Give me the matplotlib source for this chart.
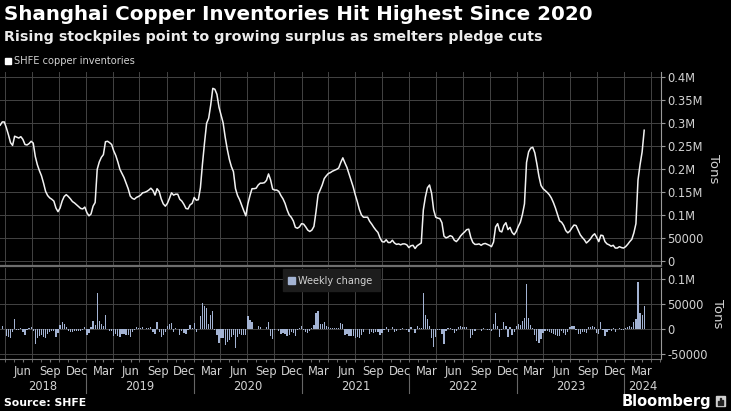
"""
Shanghai copper inventories (SHFE) with weekly change panel, Bloomberg style
"""
import numpy as np
import pandas as pd
import matplotlib
matplotlib.use('Agg')
import matplotlib.pyplot as plt
import matplotlib.dates as mdates
import matplotlib.transforms as mtransforms
from matplotlib.patches import Rectangle

# ---- data (weekly, thousand tons) ----
start_date = '2018-03-16'
inventory_kt = [
    296, 303, 303, 290, 275, 258, 252, 272, 270, 268, 271, 265, 254, 253, 256, 261,
    257, 228, 210, 197, 186, 170, 152, 143, 138, 135, 131, 116, 108, 116, 131, 141,
    145, 141, 136, 130, 127, 123, 119, 115, 114, 118, 106, 99, 103, 120, 128, 200,
    216, 226, 232, 260, 261, 258, 254, 240, 230, 216, 200, 191, 182, 170, 158, 142,
    137, 135, 139, 141, 144, 149, 150, 152, 155, 159, 154, 144, 158, 152, 136, 125,
    120, 126, 137, 149, 144, 146, 146, 135, 131, 124, 115, 114, 123, 126, 139, 133,
    134, 160, 212, 258, 300, 311, 340, 376, 374, 363, 335, 318, 301, 270, 244, 222,
    206, 195, 158, 143, 134, 122, 110, 99, 125, 143, 158, 158, 159, 166, 170, 170,
    171, 176, 190, 177, 157, 155, 155, 152, 143, 136, 126, 112, 101, 96, 88, 74,
    72, 75, 82, 81, 75, 68, 65, 68, 76, 108, 145, 155, 166, 180, 186, 191,
    193, 196, 198, 200, 203, 215, 225, 214, 204, 190, 176, 162, 145, 130, 113, 101,
    96, 96, 96, 87, 81, 74, 68, 63, 51, 43, 42, 47, 41, 41, 46, 40,
    37, 38, 36, 38, 38, 36, 30, 34, 35, 28, 34, 37, 40, 112, 140, 160,
    166, 148, 112, 96, 94, 93, 84, 55, 51, 53, 56, 54, 46, 43, 48, 55,
    60, 64, 69, 70, 52, 41, 37, 37, 38, 35, 38, 39, 37, 35, 32, 42,
    75, 82, 66, 64, 78, 84, 69, 74, 63, 58, 65, 76, 85, 102, 125, 215,
    238, 246, 248, 236, 212, 185, 165, 158, 154, 150, 145, 138, 128, 116, 102, 88,
    85, 78, 67, 62, 66, 73, 79, 78, 68, 58, 52, 47, 40, 44, 49, 56,
    60, 52, 43, 57, 56, 43, 38, 36, 33, 35, 29, 29, 32, 30, 29, 32,
    37, 43, 48, 62, 82, 177, 210, 238, 285,
]
top_ticks = [0, 50000, 100000, 150000, 200000, 250000, 300000, 350000, 400000]
top_labels = ['0', '50000', '0.1M', '0.15M', '0.2M', '0.25M', '0.3M', '0.35M', '0.4M']
bottom_ticks = [-50000, 0, 50000, 100000]
bottom_labels = ['-50000', '0', '50000', '0.1M']
years = [2018, 2019, 2020, 2021, 2022, 2023, 2024]

title = 'Shanghai Copper Inventories Hit Highest Since 2020'
subtitle = 'Rising stockpiles point to growing surplus as smelters pledge cuts'

# ---- derived series ----
dates = pd.date_range(start_date, periods=len(inventory_kt), freq='7D')
inventory = np.array(inventory_kt, dtype=float) * 1000
weekly_change = np.diff(inventory)

W, H = 731, 411
BG = 'black'
GRID = '#444444'
TXT = '#d2d2d2'
BAR = '#a3b3d3'

fig = plt.figure(figsize=(W / 100, H / 100), dpi=100, facecolor=BG)


def px_box(x0, y0, x1, y1):
    """figure-fraction rect from pixel box (y from top)"""
    return [x0 / W, 1 - y1 / H, (x1 - x0) / W, (y1 - y0) / H]


ax1 = fig.add_axes(px_box(0, 72, 661, 266))
ax2 = fig.add_axes(px_box(0, 268, 661, 359))

xmin = pd.Timestamp('2018-03-15 08:00')
xmax = pd.Timestamp('2024-05-04')

grid_dates = pd.date_range('2018-04-01', '2024-04-01', freq='QS')
label_dates = pd.date_range('2018-06-01', '2024-03-01', freq='QS-MAR')

for ax in (ax1, ax2):
    ax.set_facecolor(BG)
    ax.set_xlim(xmin, xmax)
    ax.yaxis.tick_right()
    ax.yaxis.set_label_position('right')
    for s in ('left', 'top'):
        ax.spines[s].set_visible(False)
    ax.spines['right'].set_color('#9a9a9a')
    ax.spines['right'].set_linewidth(0.8)
    ax.grid(axis='y', color=GRID, linewidth=0.7)
    for d in grid_dates:
        ax.axvline(d, color=GRID, linewidth=0.7, zorder=0)
    ax.set_axisbelow(True)
    ax.tick_params(axis='y', colors='#9a9a9a', labelcolor=TXT, labelsize=8.3,
                   length=3, width=0.8, pad=1.5)
    ax.set_ylabel('Tons', rotation=270, color=TXT, fontsize=9.5, labelpad=12)

# top panel: inventories
ax1.plot(dates, inventory, color='#f2f2f2', linewidth=1.1)
ax1.set_ylim(-10000, 411500)
ax1.set_yticks(top_ticks)
ax1.set_yticklabels(top_labels)
ax1.set_xticks([])
ax1.spines['bottom'].set_color('#6e6e6e')
ax1.spines['bottom'].set_linewidth(1.6)

# bottom panel: weekly change
ax2.bar(dates[1:], weekly_change, width=4.2, color=BAR, zorder=2)
ax2.set_ylim(-60000, 122000)
ax2.set_yticks(bottom_ticks)
ax2.set_yticklabels(bottom_labels)
ax2.spines['bottom'].set_color('#777777')
ax2.spines['bottom'].set_linewidth(0.8)
ax2.set_xticks(label_dates)
ax2.set_xticklabels([d.strftime('%b') for d in label_dates])
ax2.xaxis.set_minor_locator(mdates.MonthLocator())
ax2.tick_params(axis='x', which='major', length=2, color='#777777',
                labelcolor=TXT, labelsize=8.3, pad=2.5)
ax2.tick_params(axis='x', which='minor', length=2, color='#777777')

# year labels and separators under the month labels
trans = mtransforms.blended_transform_factory(ax2.transData, ax2.transAxes)
xlo, xhi = mdates.date2num(xmin), mdates.date2num(xmax)
for yr in years:
    a = max(mdates.date2num(pd.Timestamp(f'{yr}-01-01')), xlo)
    b = min(mdates.date2num(pd.Timestamp(f'{yr + 1}-01-01')), xhi)
    ax2.text((a + b) / 2, -0.30, str(yr), transform=trans, ha='center',
             va='center', color=TXT, fontsize=8.3)
    if yr > 2018:
        ax2.plot([a, a], [-0.17, -0.37], transform=trans, color='#666666',
                 linewidth=0.8, clip_on=False)

# titles
fig.text(4 / W, 1 - 15 / H, title, color='white', fontsize=14.3,
         fontweight='bold', va='center', ha='left')
fig.text(4 / W, 1 - 37 / H, subtitle, color='#ececec', fontsize=10.3,
         fontweight='bold', va='center', ha='left')

# legends
fig.patches.append(Rectangle((5 / W, 1 - 64 / H), 6 / W, 6 / H,
                             transform=fig.transFigure, color='white'))
fig.text(14 / W, 1 - 61 / H, 'SHFE copper inventories', color=TXT,
         fontsize=7.1, va='center', ha='left')

fig.patches.append(Rectangle((283 / W, 1 - 291 / H), 97 / W, 22 / H,
                             transform=fig.transFigure, color='#1d1d1d',
                             zorder=5))
fig.patches.append(Rectangle((288 / W, 1 - 284 / H), 7 / W, 7 / H,
                             transform=fig.transFigure, color=BAR, zorder=6))
t = fig.text(298 / W, 1 - 280.5 / H, 'Weekly change', color=TXT,
             fontsize=7, va='center', ha='left')
t.set_zorder(6)

# footer
fig.text(4 / W, 1 - 403 / H, 'Source: SHFE', color='white', fontsize=7.8,
         fontweight='bold', va='center', ha='left')
fig.text(711 / W, 1 - 401 / H, 'Bloomberg', color='white', fontsize=10.5,
         fontweight='bold', va='center', ha='right')
fig.patches.append(Rectangle((716 / W, 1 - 406 / H), 9 / W, 10 / H,
                             transform=fig.transFigure, color='#cfcfcf'))
for k, hgt in enumerate([4, 7, 5]):
    fig.patches.append(Rectangle(((717.5 + 2.2 * k) / W, 1 - 404.5 / H),
                                 1.2 / W, hgt / H, transform=fig.transFigure,
                                 color='#222222'))

plt.savefig('out.png', dpi=100, facecolor=BG)
print("Saved: out.png")
